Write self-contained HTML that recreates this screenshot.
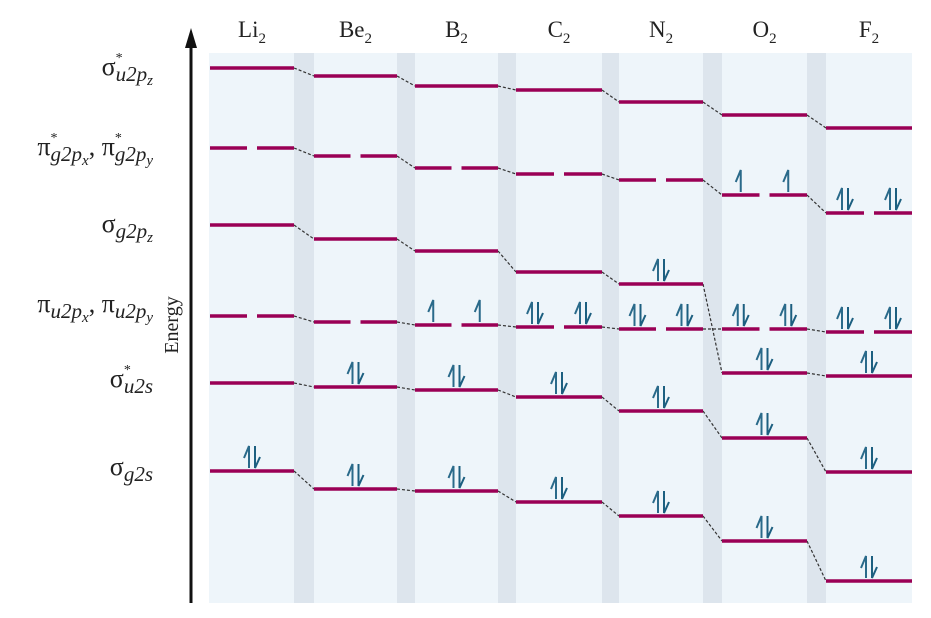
<!DOCTYPE html>
<html><head><meta charset="utf-8"><style>
body{margin:0;background:#fff;width:931px;height:618px;overflow:hidden}
svg{display:block}
text{font-family:"Liberation Serif",serif;fill:#222}
</style></head><body>
<svg id="chart" width="931" height="618">
<rect x="209" y="53" width="703" height="550" fill="#eef5fa"/>
<g id="gaps"></g>
<g id="links"></g>
<g id="levels"></g>
<g id="electrons"></g>
<g id="heads"></g>
<line x1="191" y1="603" x2="191" y2="45" stroke="#111" stroke-width="3"/>
<polygon points="191,28 185,48 197,48" fill="#111"/>
<text transform="translate(178,325) rotate(-90)" text-anchor="middle" font-size="20">Energy</text>
<g font-size="26" text-anchor="end">
<text x="153" y="75">σ<tspan font-size="14" dy="-13">*</tspan><tspan font-style="italic" font-size="21" dx="-7" dy="19">u2p</tspan><tspan font-style="italic" font-size="15" dy="4">z</tspan></text>
<text x="153" y="155">π<tspan font-size="14" dy="-13">*</tspan><tspan font-style="italic" font-size="21" dx="-7" dy="19">g2p</tspan><tspan font-style="italic" font-size="15" dy="4">x</tspan><tspan dy="-10">, π</tspan><tspan font-size="14" dy="-13">*</tspan><tspan font-style="italic" font-size="21" dx="-7" dy="19">g2p</tspan><tspan font-style="italic" font-size="15" dy="4">y</tspan></text>
<text x="153" y="232">σ<tspan font-style="italic" font-size="21" dy="6">g2p</tspan><tspan font-style="italic" font-size="15" dy="4">z</tspan></text>
<text x="153" y="312">π<tspan font-style="italic" font-size="21" dy="6">u2p</tspan><tspan font-style="italic" font-size="15" dy="4">x</tspan><tspan dy="-10">, π</tspan><tspan font-style="italic" font-size="21" dy="6">u2p</tspan><tspan font-style="italic" font-size="15" dy="4">y</tspan></text>
<text x="153" y="387">σ<tspan font-size="14" dy="-13">*</tspan><tspan font-style="italic" font-size="21" dx="-7" dy="19">u2s</tspan></text>
<text x="153" y="475">σ<tspan font-style="italic" font-size="21" dy="6">g2s</tspan></text>
</g>
</svg>
<script>
// molecules and relative energies (higher = higher energy) for each orbital
const molecules = ["Li", "Be", "B", "C", "N", "O", "F"];
const sigmaStar2p = [535, 527, 517, 513, 501, 488, 475];
const piStar2p    = [455, 447, 435, 429, 423, 408, 390];
const sigma2p     = [378, 364, 352, 331, 319, 230, 227];
const pi2p        = [287, 281, 278, 276, 274, 274, 271];
const sigmaStar2s = [220, 216, 213, 206, 192, 165, 131];
const sigma2s     = [132, 114, 112, 101, 87, 62, 22];
// electron count per orbital (per degenerate component for π)
const eSigmaStar2p = [0,0,0,0,0,0,0];
const ePiStar2p    = [0,0,0,0,0,1,2];
const eSigma2p     = [0,0,0,0,2,2,2];
const ePi2p        = [0,0,1,2,2,2,2];
const eSigmaStar2s = [0,2,2,2,2,2,2];
const eSigma2s     = [2,2,2,2,2,2,2];

const colStart = [210, 314, 415, 516, 619, 722, 826];
const colEnd   = [294, 397, 498, 602, 703, 807, 912];
const NS = "http://www.w3.org/2000/svg";
function y(e){ return 603 - e; }
function mk(tag, attrs, parent){
  const el = document.createElementNS(NS, tag);
  for (const k in attrs) el.setAttribute(k, attrs[k]);
  document.getElementById(parent).appendChild(el);
  return el;
}
for (let i=0;i<6;i++){
  const g = mk("rect",{x:colEnd[i],y:53,width:colStart[i+1]-colEnd[i],height:550,fill:"#dde5ed"},"gaps");
  
  
}
molecules.forEach((m,i)=>{
  const cx=(colStart[i]+colEnd[i])/2;
  const t=mk("text",{x:cx,y:37,"text-anchor":"middle","font-size":"23"},"heads");
  
  
  t.innerHTML=m+'<tspan font-size="15" dy="6">2</tspan>';
});
const orbitals = [
  {e:sigmaStar2p, n:eSigmaStar2p, deg:false, name:"sigma-star-2p"},
  {e:piStar2p, n:ePiStar2p, deg:true, name:"pi-star-2p"},
  {e:sigma2p, n:eSigma2p, deg:false, name:"sigma-2p"},
  {e:pi2p, n:ePi2p, deg:true, name:"pi-2p"},
  {e:sigmaStar2s, n:eSigmaStar2s, deg:false, name:"sigma-star-2s"},
  {e:sigma2s, n:eSigma2s, deg:false, name:"sigma-2s"}
];
function electrons(cx, yy, n){
  if (n===1){
    const p=mk("path",{d:`M${cx} ${yy-2} V${yy-24} L${cx-5} ${yy-12}`,stroke:"#2a6a8a",fill:"none","stroke-width":"2"},"electrons");
    
    
  } else if (n===2){
    const p=mk("path",{d:`M${cx-3} ${yy-2} V${yy-24} L${cx-8} ${yy-12}`,stroke:"#2a6a8a",fill:"none","stroke-width":"2"},"electrons");
    
    
    const q=mk("path",{d:`M${cx+3} ${yy-24} V${yy-2} L${cx+8} ${yy-13}`,stroke:"#1c5f80",fill:"none","stroke-width":"2"},"electrons");
    
    
  }
}
orbitals.forEach(o=>{
  for (let i=0;i<molecules.length;i++){
    const yy=y(o.e[i]), a=colStart[i], b=colEnd[i];
    if (i<molecules.length-1){
      const l=mk("line",{x1:b,y1:yy,x2:colStart[i+1],y2:y(o.e[i+1]),stroke:"#333","stroke-width":"1.2","stroke-dasharray":"3,2"},"links");
      
      
    }
    const sw = 3.5;
    if (o.deg){
      const w=(b-a-10)/2;
      [[a,a+w],[b-w,b]].forEach(([s,t])=>{
        const ln=mk("line",{x1:s,y1:yy,x2:t,y2:yy,stroke:"#9a0055","stroke-width":sw},"levels");
        
        
        electrons((s+t)/2, yy-1, o.n[i]);
      });
    } else {
      const ln=mk("line",{x1:a,y1:yy,x2:b,y2:yy,stroke:"#9a0055","stroke-width":sw},"levels");
      
      
      electrons((a+b)/2, yy-1, o.n[i]);
    }
  }
});
</script>
</body></html>
